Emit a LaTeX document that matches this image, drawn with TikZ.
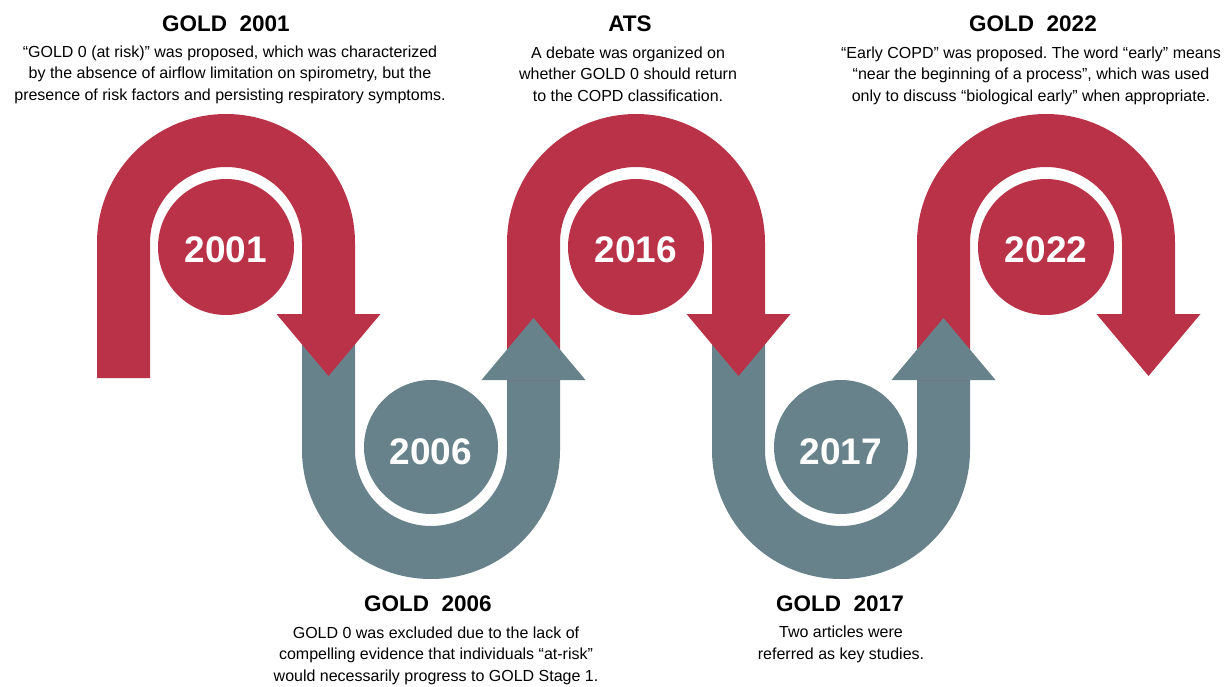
\documentclass[tikz,border=0pt]{standalone}
\usepackage{fontspec}
\setmainfont{Liberation Sans}
\frenchspacing
\definecolor{archred}{RGB}{186,50,72}
\definecolor{archgray}{RGB}{103,130,138}

% Red arch over the top: left leg from #2 up, round, down the right leg into an arrowhead
\newcommand\toparch[2]{%
  \fill[redbody] ({#1-129},#2) -- ({#1-129},243)
    arc[start angle=180,end angle=360,radius=129]
    -- ({#1+129},314) -- ({#1+154.5},314) -- ({#1+102.5},376) -- ({#1+50.5},314)
    -- ({#1+76},314) -- ({#1+76},243)
    arc[start angle=0,end angle=-180,radius=76]
    -- ({#1-76},#2) -- cycle;}
% Gray U underneath, its right leg stops where the upward head begins
\newcommand\lowarch[1]{%
  \fill[graybody] ({#1-129},314) -- ({#1-129},450)
    arc[start angle=180,end angle=0,radius=129]
    -- ({#1+129},380) -- ({#1+76},380) -- ({#1+76},450)
    arc[start angle=0,end angle=180,radius=76]
    -- ({#1-76},314) -- cycle;}
\newcommand\uphead[1]{%
  \fill[graybody] ({#1+50.5},380) -- ({#1+102.5},318) -- ({#1+154.5},380) -- cycle;}

\begin{document}
\begin{tikzpicture}[x=1pt,y=-1pt,
  redbody/.style={fill=archred},
  graybody/.style={fill=archgray},
  yearbadge/.style={circle,inner sep=0pt,minimum size=136pt,text=white,
    font=\fontsize{37}{40}\selectfont\bfseries},
  redbadge/.style={yearbadge,fill=archred,text height=31pt,text depth=0pt},
  graybadge/.style={yearbadge,fill=archgray,minimum size=134pt,text height=35pt,text depth=0pt},
  heading/.style={inner sep=0pt,font=\fontsize{22.5}{26}\selectfont\bfseries},
  note/.style={inner sep=0pt,anchor=north,align=center,
    font=\fontsize{16}{21.5}\selectfont}]

\useasboundingbox (0,0) rectangle (1226,687);

% ribbon
\lowarch{431}
\lowarch{841}
\toparch{226}{378}
\toparch{636}{380}
\toparch{1046}{380}
\uphead{431}
\uphead{841}

% year badges
\node[redbadge]  (y2001) at (226,247) {2001};
\node[graybadge] (y2006) at (431,447) {2006};
\node[redbadge]  (y2016) at (636,247) {2016};
\node[graybadge] (y2017) at (841,447) {2017};
\node[redbadge]  (y2022) at (1046,247) {2022};

% captions above
\node[heading] (h2001) at (226,24) {GOLD\ \ 2001};
\node[note] (n2001) at (230,45.5) {“GOLD 0 (at risk)” was proposed, which was characterized\\
  by the absence of airflow limitation on spirometry, but the\\
  presence of risk factors and persisting respiratory symptoms.};

\node[heading] (hats) at (630,23.5) {ATS};
\node[note] (nats) at (628,46.5) {A debate was organized on\\
  whether GOLD 0 should return\\
  to the COPD classification.};

\node[heading] (h2022) at (1033,24) {GOLD\ \ 2022};
\node[note] (n2022) at (1031,46.5) {“Early COPD” was proposed. The word “early” means\\
  “near the beginning of a process”, which was used\\
  only to discuss “biological early” when appropriate.};

% captions below
\node[heading] (h2006) at (428,603.5) {GOLD\ \ 2006};
\node[note] (n2006) at (436,626.5) {GOLD 0 was excluded due to the lack of\\
  compelling evidence that individuals “at-risk”\\
  would necessarily progress to GOLD Stage 1.};

\node[heading] (h2017) at (840,603.5) {GOLD\ \ 2017};
\node[note] (n2017) at (841,626) {Two articles were\\
  referred as key studies.};
\end{tikzpicture}
\end{document}
